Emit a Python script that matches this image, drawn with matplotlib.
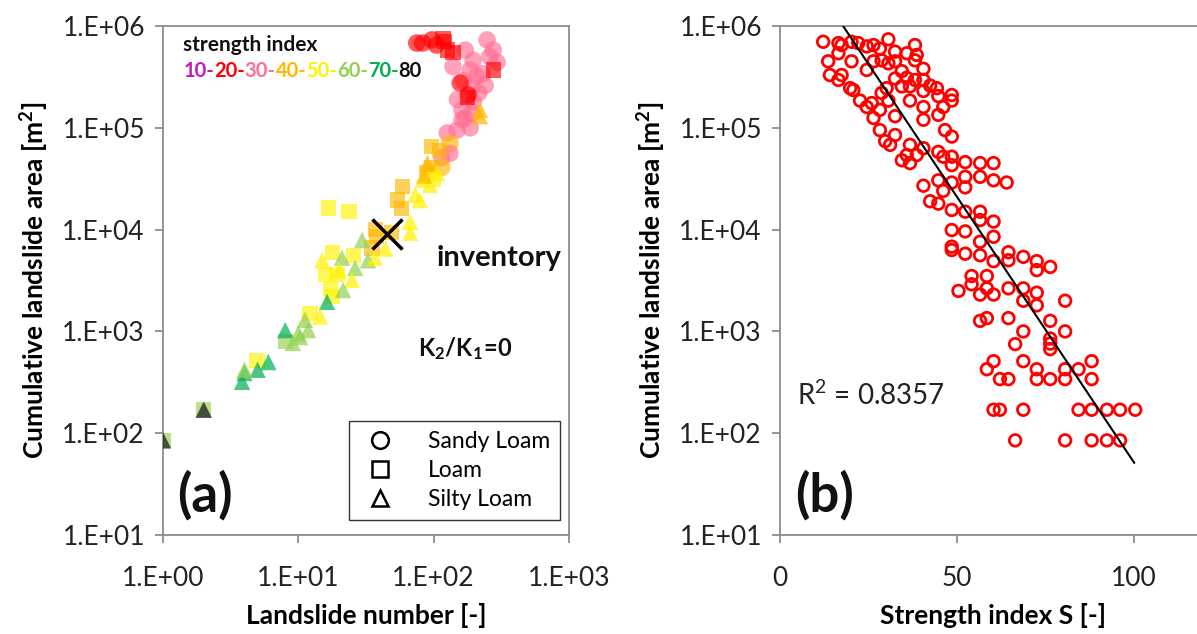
import matplotlib.pyplot as plt
from matplotlib.lines import Line2D
from matplotlib.ticker import FixedLocator, FuncFormatter, NullLocator
import numpy as np

plt.rcParams['font.family'] = ['Lato', 'DejaVu Sans']
plt.rcParams['mathtext.fontset'] = 'custom'
plt.rcParams['mathtext.rm'] = 'Lato'
plt.rcParams['mathtext.bf'] = 'Lato:bold'

# ---------------- panel (a): landslide number vs cumulative area ----------------
# Sandy Loam (circles)
sandy_n = [75, 83, 97, 105, 171, 196, 248, 275, 294, 186, 209, 192, 196, 192, 162,
           186, 149, 126, 132, 132, 115, 115, 139, 165, 162, 157, 230, 260, 215, 180,
           150, 240, 170]
sandy_area = [6.8e5, 6.8e5, 7.3e5, 6.5e5, 5.8e5, 4.6e5, 7.3e5, 5.8e5, 4.4e5, 3.7e5, 3.2e5,
              2.55e5, 1.8e5, 1.4e5, 1.2e5, 1.0e5, 9.5e4, 8.9e4, 7.0e4, 5.6e4, 5.1e4, 4.1e4,
              4.0e5, 2.9e5, 1.5e5, 2.75e5, 3.4e5, 5.0e5, 2.2e5, 2.1e5, 1.9e5, 2.6e5, 1.25e5]
sandy_s = [25, 25, 25, 25, 35, 35, 33, 35, 35, 35, 35, 35, 35, 35, 35,
           35, 35, 35, 45, 35, 35, 45, 35, 35, 35, 25, 35, 35, 35, 25,
           35, 35, 35]

# Loam (squares)
loam_n = [117, 126, 139, 275, 177, 111, 97, 89, 99, 97, 59, 54, 58, 16.6, 23.7,
          38, 37, 49, 35, 25.4, 18, 15.8, 19.3, 17.2, 18, 12.2, 8, 4.95, 2, 1, 120]
loam_area = [7.6e5, 5.8e5, 5.5e5, 3.7e5, 2.0e5, 6.0e4, 4.1e4, 3.6e4, 3.1e4, 6.5e4, 2.65e4,
             1.95e4, 1.6e4, 1.63e4, 1.5e4, 8.5e3, 1.0e4, 9.3e3, 6.6e3, 5.6e3, 6.0e3, 3.6e3,
             3.6e3, 2.65e3, 2.2e3, 1.5e3, 7.9e2, 5.2e2, 170, 85, 7.0e5]
loam_s = [25, 25, 25, 25, 25, 45, 45, 45, 55, 45, 45, 45, 45, 55, 55,
          45, 45, 45, 45, 55, 55, 55, 55, 55, 55, 55, 65, 55, 65, 65, 25]

# Silty Loam (triangles)
silty_n = [220, 220, 106, 83, 67, 67, 73, 79, 94, 90, 85, 29.6, 32.7, 36.8, 21, 15,
           26.3, 24.9, 21.4, 16.3, 11.2, 14.5, 11.8, 10, 8, 9.1, 10.3, 5.0, 6.0, 4.0,
           3.84, 4.0, 44, 20, 2, 1]
silty_area = [1.3e5, 1.5e5, 3.6e4, 3.1e4, 1.19e4, 9.3e3, 2.2e4, 1.95e4, 2.75e4, 4.5e4, 3.4e4,
              7.9e3, 5.0e3, 5.3e3, 5.3e3, 5.0e3, 4.2e3, 3.2e3, 2.55e3, 1.95e3, 1.3e3, 1.4e3,
              1.03e3, 9.6e2, 1.03e3, 7.7e2, 8.8e2, 4.2e2, 5.0e2, 3.9e2, 3.2e2, 4.2e2,
              6.5e3, 4.0e3, 170, 85]
silty_s = [45, 45, 55, 55, 55, 55, 55, 55, 55, 45, 45, 65, 65, 55, 65, 55,
           65, 55, 65, 75, 65, 55, 65, 65, 75, 65, 65, 75, 75, 75,
           75, 65, 55, 55, 85, 85]

inventory_n = 45
inventory_area = 9.0e3

# ---------------- panel (b): strength index vs cumulative area ----------------
strength = [12.2, 16.5, 17.4, 20.2, 22.1, 24.5, 26.4, 28.2, 30.6, 32.5, 35.8, 38.1, 38.6,
            13.6, 16.5, 20.2, 24.5, 26.4, 28.7, 30.6, 32.5, 34.4, 35.8, 38.1,
            14.1, 16.5, 17.4, 19.8, 20.7, 22.6, 24.5, 25.9, 26.4, 28.2, 28.7, 30.1, 30.6,
            32.5, 32.5, 34.4, 36.7, 36.7, 38.1, 40.5, 40.5, 40.5, 40.5, 40.5, 42.4, 44.3,
            44.7, 44.7, 46.1, 46.6, 48.5, 48.5, 48.5,
            28.2, 29.7, 31.1, 32.5, 34.4, 35.8, 36.7, 36.7, 38.6, 40.5, 44.7, 46.1, 48.5,
            48.5, 52.3, 52.3, 56.5, 56.5, 60.3, 60.3, 64.0, 44.7, 46.1, 48.5, 52.3, 40.5,
            42.4, 44.7, 48.5, 52.3, 56.5, 56.5, 60.3, 48.5, 48.5, 52.3, 56.5, 60.3,
            48.5, 52.3, 56.5, 60.3, 64.5, 64.5, 68.7, 72.5, 72.5, 76.3, 54.1, 58.4, 54.1,
            50.4, 56.5, 58.4, 60.3, 64.5, 68.7, 68.7, 72.5, 72.5, 80.5, 56.5, 58.4, 64.5,
            68.7, 66.4, 76.3, 76.3, 76.3, 76.3, 80.5,
            60.3, 58.4, 68.7, 62.1, 64.5, 72.5, 72.5, 76.3, 80.5, 80.5, 84.3, 88.0, 88.0,
            60.3, 62.1, 68.7, 84.3, 88.0, 92.3, 96.0, 100.3,
            66.4, 80.5, 88.0, 92.3, 96.0]
area_b = [7.0e5, 6.8e5, 6.5e5, 7.0e5, 6.8e5, 6.3e5, 6.5e5, 6.0e5, 7.4e5, 5.6e5, 5.4e5, 6.5e5, 5.2e5,
          4.5e5, 5.4e5, 4.5e5, 3.7e5, 4.5e5, 4.6e5, 4.3e5, 4.5e5, 3.6e5, 3.1e5, 4.6e5,
          3.3e5, 2.95e5, 3.3e5, 2.45e5, 2.35e5, 1.85e5, 1.6e5, 1.75e5, 1.25e5, 1.5e5, 2.2e5,
          2.45e5, 1.85e5, 3.05e5, 1.3e5, 2.55e5, 2.55e5, 1.85e5, 2.95e5, 3.8e5, 2.95e5,
          2.3e5, 1.6e5, 1.2e5, 2.6e5, 2.45e5, 2.05e5, 1.34e5, 1.6e5, 9.5e4, 2.1e5, 1.85e5, 8.2e4,
          9.5e4, 7.4e4, 6.8e4, 8.5e4, 4.8e4, 5.4e4, 6.8e4, 4.5e4, 5.4e4, 6.3e4, 5.8e4, 5.2e4,
          5.2e4, 4.3e4, 4.6e4, 3.3e4, 4.5e4, 3.3e4, 4.5e4, 3.05e4, 2.9e4, 3.05e4, 2.4e4, 2.9e4,
          2.6e4, 2.7e4, 1.9e4, 1.8e4, 1.56e4, 1.5e4, 1.5e4, 1.24e4, 1.2e4, 9.9e3, 6.8e3, 9.6e3,
          7.6e3, 8.5e3,
          6.3e3, 5.8e3, 5.6e3, 4.9e3, 5.0e3, 6.0e3, 5.4e3, 4.9e3, 4.0e3, 4.3e3, 3.5e3, 3.5e3,
          2.9e3, 2.5e3, 2.3e3, 2.65e3, 2.3e3, 2.65e3, 2.65e3, 2.0e3, 2.4e3, 1.8e3, 2.0e3,
          1.27e3, 1.35e3, 1.35e3, 1.0e3, 7.5e2, 1.27e3, 8.5e2, 7.6e2, 6.7e2, 1.0e3,
          510, 425, 510, 340, 340, 425, 340, 340, 425, 340, 425, 510, 340,
          170, 170, 170, 170, 170, 170, 170, 170,
          85, 85, 85, 85, 85]

# exponential trend line: log10(area) = intercept + slope * S
trend_intercept = 6.93
trend_slope = -0.0522
trend_range = [12, 100]
r_squared = 0.8357

# strength index classes
class_labels = ['10-', '20-', '30-', '40-', '50-', '60-', '70-', '80']
class_colors = ['#C718B8', '#FF0000', '#FF6F94', '#FFB800', '#FFF200', '#92D050', '#00B050', '#111111']


def s_color(values):
    return [class_colors[min(max(int(v // 10) - 1, 0), 7)] for v in values]


def exp_fmt(v, pos):
    return '1.E+%02d' % int(round(np.log10(v)))


grey = '#8C8C8C'

fig = plt.figure(figsize=(11.97, 6.34), dpi=100)
ax1 = fig.add_axes([163 / 1197, 99 / 634, 406 / 1197, 509 / 634])
ax2 = fig.add_axes([780 / 1197, 99 / 634, 425 / 1197, 509 / 634])

for ax in (ax1, ax2):
    ax.set_yscale('log')
    ax.set_ylim(1e1, 1e6)
    ax.yaxis.set_major_locator(FixedLocator([1e1, 1e2, 1e3, 1e4, 1e5, 1e6]))
    ax.yaxis.set_major_formatter(FuncFormatter(exp_fmt))
    ax.yaxis.set_minor_locator(NullLocator())
    for sp in ax.spines.values():
        sp.set_color(grey)
        sp.set_linewidth(1.3)
    ax.tick_params(axis='both', which='major', direction='out', length=6, width=1.3,
                   color=grey, labelsize=19, labelcolor='#222222')
    ax.tick_params(axis='x', pad=16)
    ax.tick_params(axis='y', pad=7)
    ax.set_ylabel('Cumulative landslide area [m$^\\mathbf{2}$]', fontsize=19,
                  fontweight='bold', labelpad=8)

# panel (a)
ax1.set_xscale('log')
ax1.set_xlim(1, 1e3)
ax1.xaxis.set_major_locator(FixedLocator([1, 10, 100, 1000]))
ax1.xaxis.set_major_formatter(FuncFormatter(exp_fmt))
ax1.xaxis.set_minor_locator(NullLocator())

ax1.scatter(sandy_n, sandy_area, c=s_color(sandy_s), marker='o', s=160, alpha=0.65,
            linewidths=0, zorder=3)
ax1.scatter(loam_n, loam_area, c=s_color(loam_s), marker='s', s=120, alpha=0.65,
            linewidths=0, zorder=3)
ax1.scatter(silty_n, silty_area, c=s_color(silty_s), marker='^', s=140, alpha=0.7,
            linewidths=0, zorder=4)
ax1.plot(inventory_n, inventory_area, marker='x', ms=22, mew=2.5, color='black', zorder=6)

ax1.set_xlabel('Landslide number [-]', fontsize=19, fontweight='bold', labelpad=9)

ax1.text(0.05, 0.963, 'strength index', transform=ax1.transAxes, fontsize=15,
         fontweight='bold', va='center', color='#111111')
t = ax1.text(0.05, 0.912, class_labels[0], transform=ax1.transAxes, fontsize=14.5,
             fontweight='bold', va='center', color=class_colors[0])
for lbl, col in zip(class_labels[1:], class_colors[1:]):
    t = ax1.annotate(lbl, xy=(1, 0), xycoords=t, va='bottom', ha='left', fontsize=14.5,
                     fontweight='bold', color=col)

ax1.text(0.675, 0.544, 'inventory', transform=ax1.transAxes, fontsize=21,
         fontweight='bold', va='center', color='#111111')
ax1.text(0.628, 0.367, r'$\mathbf{K_2/K_1\!=\!0}$', transform=ax1.transAxes, fontsize=17,
         va='center', color='#111111')
ax1.text(0.035, 0.079, '(a)', transform=ax1.transAxes, fontsize=38, fontweight='bold',
         va='center', color='#111111')

handles = [Line2D([], [], ls='none', marker=m, mfc='none', mec='black', mew=1.8, ms=12)
           for m in ('o', 's', '^')]
leg = ax1.legend(handles, ['Sandy Loam', 'Loam', 'Silty Loam'], loc='lower right',
                 bbox_to_anchor=(0.99, 0.02), fontsize=16.5, frameon=True, fancybox=False,
                 edgecolor='black', handletextpad=1.2, labelspacing=0.35, borderpad=0.45,
                 handlelength=1.8, borderaxespad=0.2)
leg.get_frame().set_linewidth(1.0)

# panel (b)
ax2.set_xlim(0, 120)
ax2.xaxis.set_major_locator(FixedLocator([0, 50, 100]))
ax2.scatter(strength, area_b, marker='o', s=70, facecolors='none', edgecolors='#FF0000',
            linewidths=2.0, zorder=3)
s_line = np.linspace(trend_range[0], trend_range[1], 50)
ax2.plot(s_line, 10 ** (trend_intercept + trend_slope * s_line), color='black', lw=1.5,
         zorder=4)
ax2.set_xlabel('Strength index S [-]', fontsize=19, fontweight='bold', labelpad=9)
ax2.text(0.04, 0.275, 'R$^2$ = %.4f' % r_squared, transform=ax2.transAxes, fontsize=20,
         va='center', color='#222222')
ax2.text(0.035, 0.079, '(b)', transform=ax2.transAxes, fontsize=38, fontweight='bold',
         va='center', color='#111111')

fig.savefig('out.png', dpi=100)
